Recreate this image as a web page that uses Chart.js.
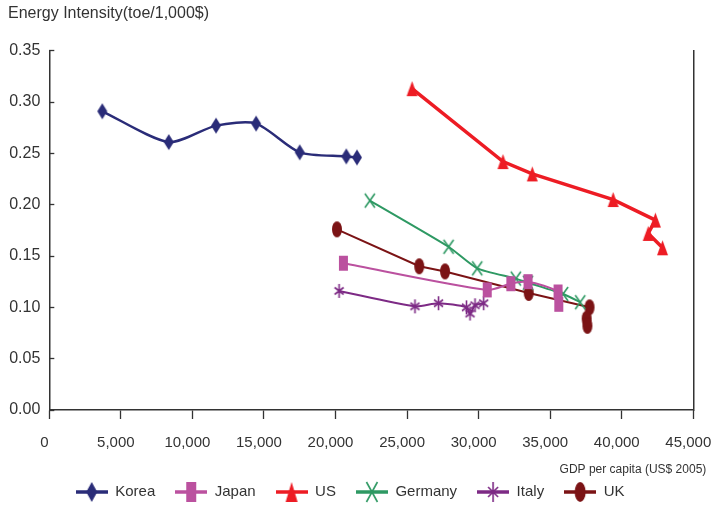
<!DOCTYPE html>
<html>
<head>
<meta charset="utf-8">
<title>Energy Intensity vs GDP per capita</title>
<script src="https://cdn.jsdelivr.net/npm/chart.js@4.4.1/dist/chart.umd.min.js"></script>
<style>
  html, body { margin: 0; padding: 0; background: #fff; }
  #wrap { width: 713px; height: 505px; position: relative; }
</style>
</head>
<body>
<div id="wrap"><canvas id="chart"></canvas></div>
<script>
// ---- data: GDP per capita (US$ 2005) and energy intensity (toe/1,000$) ----
const seriesNames = ['Korea', 'Japan', 'US', 'Germany', 'Italy', 'UK'];

const koreaGdp = [3700, 8350, 11650, 14450, 17500, 20750, 21500];
const koreaEi  = [0.291, 0.261, 0.277, 0.279, 0.251, 0.247, 0.246];

const japanGdp = [20550, 30600, 32250, 33450, 35550, 35600];
const japanEi  = [0.143, 0.117, 0.123, 0.125, 0.115, 0.103];

const usGdp = [25350, 31700, 33750, 39400, 42350, 41850, 42850];
const usEi  = [0.313, 0.242, 0.230, 0.205, 0.185, 0.172, 0.158];

const germanyGdp = [22400, 27900, 29900, 32600, 33450, 35900, 37100];
const germanyEi  = [0.204, 0.159, 0.138, 0.128, 0.124, 0.113, 0.105];

const italyGdp = [20250, 25550, 27200, 29150, 29400, 29750, 30350];
const italyEi  = [0.116, 0.101, 0.104, 0.100, 0.094, 0.102, 0.104];

const ukGdp = [20100, 25850, 27650, 33500, 37750, 37550, 37600];
const ukEi  = [0.176, 0.140, 0.135, 0.114, 0.100, 0.089, 0.082];

const xTickValues = [0, 5000, 10000, 15000, 20000, 25000, 30000, 35000, 40000, 45000];
const yTickValues = [0, 0.05, 0.10, 0.15, 0.20, 0.25, 0.30, 0.35];

const yAxisTitle = 'Energy Intensity(toe/1,000$)';
const xAxisTitle = 'GDP per capita (US$ 2005)';

// ---- styling ----
const FONT = "'Liberation Sans', Arial, sans-serif";
const INK = '#333333';
const styles = {
  Korea:   { color: '#2a2c78', marker: 'diamond',  w: 10, h: 16, line: 2.5, tension: 0.25 },
  Japan:   { color: '#bb519f', marker: 'square',   w: 9,  h: 15, line: 2,   tension: 0.25 },
  US:      { color: '#ed1c24', marker: 'triangle', w: 11, h: 15, line: 3.5, tension: 0 },
  Germany: { color: '#2e9963', marker: 'x',        w: 10, h: 14, line: 2,   tension: 0.2 },
  Italy:   { color: '#7d2a85', marker: 'star',     w: 9,  h: 14, line: 2,   tension: 0.25 },
  UK:      { color: '#7b1315', marker: 'ellipse',  w: 10, h: 16, line: 2,   tension: 0 }
};

// draws a marker shape into a context, inside a w x h box at (ox, oy)
function paintMarker(g, kind, color, ox, oy, w, h) {
  g.save();
  g.translate(ox, oy);
  g.fillStyle = color;
  g.strokeStyle = color;
  g.lineWidth = 1.6;
  g.beginPath();
  switch (kind) {
    case 'diamond':
      g.moveTo(w / 2, 0); g.lineTo(w, h / 2); g.lineTo(w / 2, h); g.lineTo(0, h / 2);
      g.closePath(); g.fill(); break;
    case 'square':
      g.rect(0, 0, w, h); g.fill(); break;
    case 'triangle':
      g.moveTo(w / 2, 0); g.lineTo(w, h); g.lineTo(0, h);
      g.closePath(); g.fill(); break;
    case 'ellipse':
      g.ellipse(w / 2, h / 2, w / 2, h / 2, 0, 0, Math.PI * 2); g.fill(); break;
    case 'x':
      g.moveTo(0, 0); g.lineTo(w, h); g.moveTo(w, 0); g.lineTo(0, h); g.stroke(); break;
    case 'star':
      g.moveTo(w / 2, 0); g.lineTo(w / 2, h);
      g.moveTo(0, h * 0.25); g.lineTo(w, h * 0.75);
      g.moveTo(w, h * 0.25); g.lineTo(0, h * 0.75);
      g.stroke(); break;
  }
  g.restore();
}

function markerImage(s) {
  const pad = 2;
  const c = document.createElement('canvas');
  c.width = s.w + pad * 2;
  c.height = s.h + pad * 2;
  paintMarker(c.getContext('2d'), s.marker, s.color, pad, pad, s.w, s.h);
  return c;
}

// legend swatch: a short line with the marker in the middle
function legendImage(s) {
  const W = 32, H = 24;
  const c = document.createElement('canvas');
  c.width = W; c.height = H;
  const g = c.getContext('2d');
  g.strokeStyle = s.color;
  g.lineWidth = 3.5;
  g.beginPath(); g.moveTo(0, H / 2); g.lineTo(W, H / 2); g.stroke();
  const mw = Math.round(s.w * 1.1), mh = 20;
  paintMarker(g, s.marker, s.color, (W - mw) / 2, (H - mh) / 2, mw, mh);
  return c;
}

const pairs = (xs, ys) => xs.map((x, i) => ({ x: x, y: ys[i] }));
const seriesData = {
  Korea: pairs(koreaGdp, koreaEi),
  Japan: pairs(japanGdp, japanEi),
  US: pairs(usGdp, usEi),
  Germany: pairs(germanyGdp, germanyEi),
  Italy: pairs(italyGdp, italyEi),
  UK: pairs(ukGdp, ukEi)
};

const datasets = seriesNames.map(name => {
  const s = styles[name];
  return {
    label: name,
    data: seriesData[name],
    showLine: true,
    borderColor: s.color,
    backgroundColor: s.color,
    borderWidth: s.line,
    tension: s.tension,
    pointStyle: markerImage(s),
    pointRadius: 6,
    pointHoverRadius: 6,
    clip: false
  };
});

const legendImages = seriesNames.map(n => legendImage(styles[n]));

// layout targets for the plot frame
const PLOT_LEFT = 49.3, PLOT_RIGHT = 693.3, PLOT_BOTTOM = 410;
const PAD_LEFT = 8, PAD_BOTTOM = -4.5;

// x-axis caption, right-aligned a little past the frame
const xTitlePlugin = {
  id: 'xCaption',
  afterDraw(chart) {
    const ctx = chart.ctx;
    ctx.save();
    ctx.font = '12px ' + FONT;
    ctx.fillStyle = INK;
    ctx.textAlign = 'right';
    ctx.textBaseline = 'middle';
    ctx.fillText(xAxisTitle, chart.chartArea.right + 13, chart.chartArea.bottom + 60);
    ctx.restore();
  }
};

new Chart(document.getElementById('chart'), {
  type: 'scatter',
  data: { datasets: datasets },
  plugins: [xTitlePlugin],
  options: {
    responsive: true,
    maintainAspectRatio: false,
    animation: false,
    events: [],
    layout: { padding: { left: PAD_LEFT, right: 0, top: 0, bottom: PAD_BOTTOM } },
    plugins: {
      tooltip: { enabled: false },
      title: {
        display: true,
        text: yAxisTitle,
        align: 'start',
        color: INK,
        font: { family: FONT, size: 16, weight: 'normal' },
        padding: { top: 4, bottom: 27.5 }
      },
      legend: {
        position: 'bottom',
        align: 'center',
        labels: {
          usePointStyle: true,
          pointStyleWidth: 32,
          color: INK,
          font: { family: FONT, size: 15 },
          padding: 20,
          // the last entry carries trailing spaces so the row sits a bit left of centre
          generateLabels: () => seriesNames.map((n, i) => ({
            text: i === seriesNames.length - 1 ? n + '     ' : n,
            pointStyle: legendImages[i],
            fillStyle: styles[n].color,
            strokeStyle: styles[n].color,
            lineWidth: 0,
            hidden: false,
            datasetIndex: i,
            fontColor: INK
          }))
        }
      }
    },
    scales: {
      x: {
        type: 'linear',
        position: 'bottom',
        min: 0,
        max: 45000,
        afterBuildTicks: s => { s.ticks = xTickValues.map(v => ({ value: v })); },
        afterFit: s => {
          const lg = s.chart.legend;
          s.height = 505 - PAD_BOTTOM - (lg ? lg.height : 0) - PLOT_BOTTOM;
          s.paddingLeft = 0;
          s.paddingRight = 0;
        },
        ticks: {
          color: INK,
          font: { family: FONT, size: 15 },
          padding: 15,
          labelOffset: -5,
          maxRotation: 0,
          autoSkip: false,
          callback: v => v.toLocaleString('en-US')
        },
        grid: { drawOnChartArea: false, drawTicks: true, tickLength: 9, color: INK, tickWidth: 1.3 },
        border: { display: true, color: INK, width: 1.5 }
      },
      y: {
        type: 'linear',
        position: 'left',
        min: 0,
        max: 0.35,
        afterBuildTicks: s => { s.ticks = yTickValues.map(v => ({ value: v })); },
        afterFit: s => { s.width = PLOT_LEFT - PAD_LEFT; },
        ticks: {
          color: INK,
          font: { family: FONT, size: 16 },
          padding: 14,
          callback: v => v.toFixed(2)
        },
        grid: { drawOnChartArea: false, drawTicks: true, tickLength: -5, color: INK, tickWidth: 1.3 },
        border: { display: true, color: INK, width: 1.5 }
      },
      yRight: {
        type: 'linear',
        position: 'right',
        min: 0,
        max: 0.35,
        afterFit: s => { s.width = 713 - PLOT_RIGHT; },
        ticks: { display: false },
        grid: { drawOnChartArea: false, drawTicks: false },
        border: { display: true, color: INK, width: 1.5 }
      }
    }
  }
});
</script>
</body>
</html>
